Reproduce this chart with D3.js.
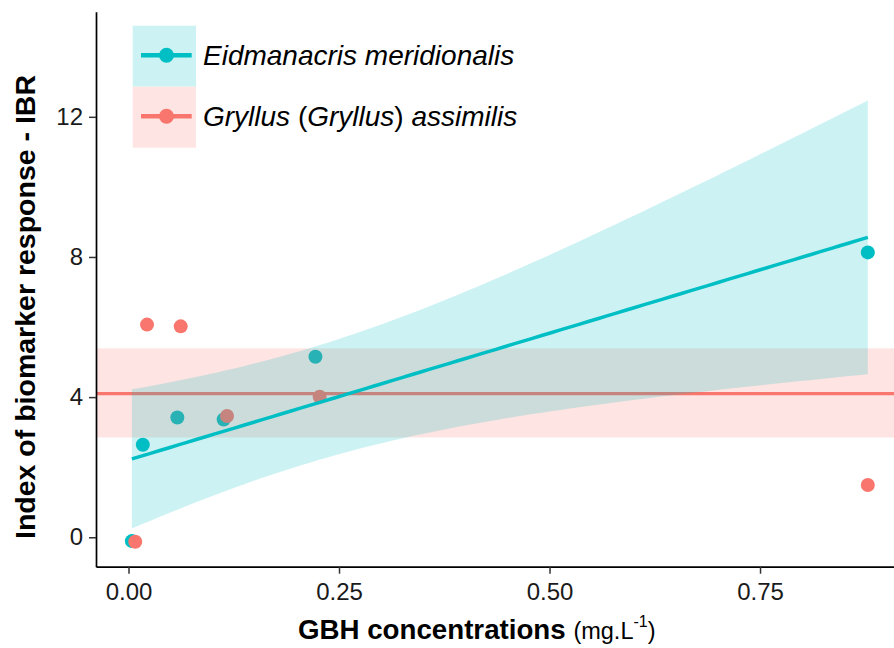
<!DOCTYPE html>
<html>
<head>
<meta charset="utf-8">
<script src="https://cdn.jsdelivr.net/npm/d3@7/dist/d3.min.js"></script>
<style>
  body { margin: 0; background: #fff; }
  svg { display: block; font-family: "Liberation Sans", Arial, sans-serif; }
</style>
</head>
<body>
<div id="chart"></div>
<script>
// Data
const species = ["Eidmanacris meridionalis", "Gryllus (Gryllus) assimilis"];
const colors = ["#00BFC4", "#F8766D"];

const cyanX = [0.004, 0.017, 0.058, 0.113, 0.222, 0.878];
const cyanY = [-0.11, 2.64, 3.42, 3.36, 5.15, 8.13];
const redX = [0.008, 0.022, 0.062, 0.117, 0.227, 0.878];
const redY = [-0.13, 6.07, 6.02, 3.46, 4.01, 1.49];

// horizontal level and band for Gryllus
const redLevel = 4.1;
const redBand = [2.85, 5.39];

const xTicks = [0, 0.25, 0.5, 0.75];
const yTicks = [0, 4, 8, 12];

// t quantile (0.975, df = 4) for the 95% band of the linear fit
const tCrit = 2.776;

function BuildGraph(){
  let width = 894;
  let height = 648;

  let svg = d3.select('#chart')
    .append('svg')
    .attr('width', width)
    .attr('height', height);

  let x = d3.scaleLinear().domain([-0.0386, 0.9091]).range([96, 894]);
  let y = d3.scaleLinear().domain([-0.84, 15]).range([566.7, 11.7]);

  // Points first (bands are drawn over them)
  let pts = svg.append('g');
  cyanX.forEach((d, i) => {
    pts.append('circle')
      .attr('cx', x(d)).attr('cy', y(cyanY[i]))
      .attr('r', 7).attr('fill', colors[0]);
  });
  redX.forEach((d, i) => {
    pts.append('circle')
      .attr('cx', x(d)).attr('cy', y(redY[i]))
      .attr('r', 7).attr('fill', colors[1]);
  });

  // Gryllus band + line
  svg.append('rect')
    .attr('x', x.range()[0])
    .attr('width', x.range()[1] - x.range()[0])
    .attr('y', y(redBand[1]))
    .attr('height', y(redBand[0]) - y(redBand[1]))
    .attr('fill', colors[1])
    .attr('fill-opacity', 0.2);
  svg.append('line')
    .attr('x1', x.range()[0]).attr('x2', x.range()[1])
    .attr('y1', y(redLevel)).attr('y2', y(redLevel))
    .attr('stroke', colors[1]).attr('stroke-width', 3.2);

  // Linear fit for Eidmanacris with 95% confidence band
  let n = cyanX.length;
  let xbar = d3.mean(cyanX), ybar = d3.mean(cyanY);
  let sxx = d3.sum(cyanX, d => (d - xbar) * (d - xbar));
  let sxy = d3.sum(cyanX, (d, i) => (d - xbar) * (cyanY[i] - ybar));
  let slope = sxy / sxx;
  let icpt = ybar - slope * xbar;
  let sse = d3.sum(cyanX, (d, i) => Math.pow(cyanY[i] - (icpt + slope * d), 2));
  let s = Math.sqrt(sse / (n - 2));
  let x0 = d3.min(cyanX), x1 = d3.max(cyanX);
  let grid = d3.range(80).map(k => x0 + (x1 - x0) * k / 79);
  let fit = grid.map(g => {
    let yh = icpt + slope * g;
    let hw = tCrit * s * Math.sqrt(1 / n + (g - xbar) * (g - xbar) / sxx);
    return {x: g, y: yh, lo: yh - hw, hi: yh + hw};
  });

  svg.append('path')
    .datum(fit)
    .attr('d', d3.area().x(d => x(d.x)).y0(d => y(d.lo)).y1(d => y(d.hi)))
    .attr('fill', colors[0])
    .attr('fill-opacity', 0.2);
  svg.append('path')
    .datum(fit)
    .attr('d', d3.line().x(d => x(d.x)).y(d => y(d.y)))
    .attr('fill', 'none')
    .attr('stroke', colors[0])
    .attr('stroke-width', 3.5);

  // Axes
  let xAxis = d3.axisBottom(x)
    .tickValues(xTicks)
    .tickFormat(d3.format('.2f'))
    .tickSize(7).tickSizeOuter(0).tickPadding(9);
  let gx = svg.append('g')
    .attr('transform', 'translate(0,566.7)')
    .call(xAxis);

  let yAxis = d3.axisLeft(y)
    .tickValues(yTicks)
    .tickSize(7).tickSizeOuter(0).tickPadding(6);
  let gy = svg.append('g')
    .attr('transform', 'translate(96,0)')
    .call(yAxis);

  [gx, gy].forEach(g => {
    g.select('.domain').attr('stroke', '#000').attr('stroke-width', 1.7);
    g.selectAll('.tick line').attr('stroke', '#333').attr('stroke-width', 1.5);
    g.selectAll('.tick text')
      .attr('fill', '#1a1a1a')
      .style('font-size', '24px')
      .style('font-family', '"Liberation Sans", Arial, sans-serif');
  });

  // Axis titles
  svg.append('text')
    .attr('transform', 'translate(35,307)rotate(-90)')
    .attr('text-anchor', 'middle')
    .style('font-size', '28.5px')
    .style('font-weight', 'bold')
    .text('Index of biomarker response - IBR');

  let xt = svg.append('text')
    .attr('x', 298).attr('y', 638.7)
    .style('font-size', '27.7px')
    .style('font-weight', 'bold');
  xt.append('tspan').text('GBH concentrations ');
  xt.append('tspan').style('font-weight', 'normal').style('font-size', '23.5px').text('(mg.L');
  xt.append('tspan').style('font-weight', 'normal').style('font-size', '16px')
    .attr('dy', -12).text('-1');
  xt.append('tspan').style('font-weight', 'normal').style('font-size', '23.5px')
    .attr('dy', 12).text(')');

  // Legend
  let legend = svg.append('g');
  species.forEach((name, i) => {
    let top = 25.7 + i * 61;
    legend.append('rect')
      .attr('x', 132.7).attr('y', top)
      .attr('width', 63.3).attr('height', 61)
      .attr('fill', '#fff');
    legend.append('rect')
      .attr('x', 132.7).attr('y', top)
      .attr('width', 63.3).attr('height', 61)
      .attr('fill', colors[i]).attr('fill-opacity', 0.2);
    legend.append('line')
      .attr('x1', 141).attr('x2', 191.7)
      .attr('y1', top + 29.5).attr('y2', top + 29.5)
      .attr('stroke', colors[i]).attr('stroke-width', 4.5);
    legend.append('circle')
      .attr('cx', 166.5).attr('cy', top + 29.5)
      .attr('r', 7.5).attr('fill', colors[i]);
  });

  legend.append('text')
    .attr('x', 203).attr('y', 65)
    .style('font-size', '28px')
    .style('font-style', 'italic')
    .text(species[0]);

  let g2 = legend.append('text')
    .attr('x', 203).attr('y', 126)
    .style('font-size', '28px');
  g2.append('tspan').style('font-style', 'italic').text('Gryllus');
  g2.append('tspan').text(' (');
  g2.append('tspan').style('font-style', 'italic').text('Gryllus');
  g2.append('tspan').text(') ');
  g2.append('tspan').style('font-style', 'italic').text('assimilis');
}

BuildGraph();
</script>
</body>
</html>
